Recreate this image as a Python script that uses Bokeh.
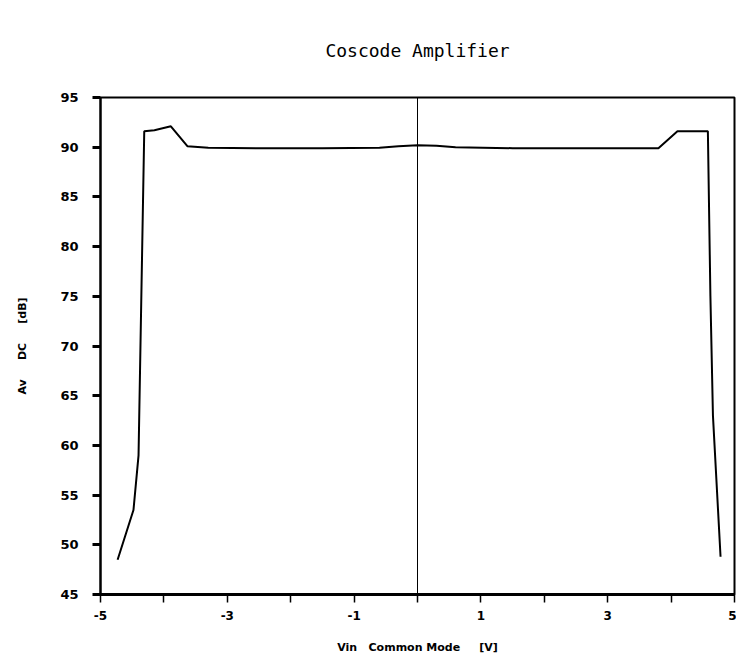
from bokeh.plotting import figure
from bokeh.models import FixedTicker, Span, Range1d
from bokeh.embed import file_html
from bokeh.resources import INLINE

# Data
vin = [-4.73, -4.48, -4.40, -4.31, -4.15, -3.89, -3.63, -3.30, -2.50, -1.50,
       -0.60, -0.30, 0.00, 0.30, 0.60, 1.50, 2.50, 3.30, 3.80, 4.10,
       4.35, 4.58, 4.62, 4.66, 4.78]
av_db = [48.5, 53.5, 59.0, 91.6, 91.7, 92.1, 90.1, 89.95, 89.9, 89.9,
         89.95, 90.1, 90.2, 90.15, 90.0, 89.9, 89.9, 89.9, 89.9, 91.6,
         91.6, 91.6, 75.0, 63.0, 48.8]
x_major = [-5, -3, -1, 1, 3, 5]
x_minor = [-4, -2, 0, 2, 4]
y_ticks = [45, 50, 55, 60, 65, 70, 75, 80, 85, 90, 95]
title_text = "Coscode Amplifier"

NB = "\u00a0"

p = figure(width=736, height=656, output_backend="svg", toolbar_location=None,
           x_range=Range1d(-5, 5), y_range=Range1d(45, 95),
           min_border_left=100, min_border_right=2, min_border_top=97,
           min_border_bottom=60)

p.title.text = title_text
p.title.align = "center"
p.title.vertical_align = "top"
p.title.text_font = "DejaVu Sans Mono"
p.title.text_font_size = "18px"
p.title.text_font_style = "normal"
p.title.text_color = "black"
p.title.standoff = 70

p.xgrid.visible = False
p.ygrid.visible = False
p.outline_line_color = "black"
p.outline_line_width = 2

# x axis
p.xaxis.ticker = FixedTicker(ticks=x_major, minor_ticks=x_minor)
p.xaxis.major_label_overrides = {v: ("-" + str(abs(v)) if v < 0 else str(v)) for v in x_major}
p.xaxis.axis_line_width = 3
p.xaxis.major_tick_in = 0
p.xaxis.major_tick_out = 8
p.xaxis.minor_tick_in = 0
p.xaxis.minor_tick_out = 8
p.xaxis.major_tick_line_width = 1.5
p.xaxis.minor_tick_line_width = 1.5
p.xaxis.major_label_text_font = "DejaVu Sans"
p.xaxis.major_label_text_font_style = "bold"
p.xaxis.major_label_text_font_size = "12px"
p.xaxis.major_label_text_color = "black"
p.xaxis.major_label_standoff = 8
p.xaxis.axis_label = "Vin" + NB * 3 + "Common" + NB + "Mode" + NB * 5 + "[V]"
p.xaxis.axis_label_text_font = "DejaVu Sans"
p.xaxis.axis_label_text_font_style = "bold"
p.xaxis.axis_label_text_font_size = "11px"
p.xaxis.axis_label_text_color = "black"
p.xaxis.axis_label_standoff = 18

# y axis
p.yaxis.ticker = FixedTicker(ticks=y_ticks, minor_ticks=[])
p.yaxis.axis_line_width = 2
p.yaxis.major_tick_in = 0
p.yaxis.major_tick_out = 8
p.yaxis.major_tick_line_width = 3
p.yaxis.major_label_text_font = "DejaVu Sans"
p.yaxis.major_label_text_font_style = "bold"
p.yaxis.major_label_text_font_size = "13px"
p.yaxis.major_label_text_color = "black"
p.yaxis.major_label_standoff = 14
p.yaxis.axis_label = "Av" + NB * 5 + "DC" + NB * 5 + "[dB]"
p.yaxis.axis_label_text_font = "DejaVu Sans"
p.yaxis.axis_label_text_font_style = "bold"
p.yaxis.axis_label_text_font_size = "11px"
p.yaxis.axis_label_text_color = "black"
p.yaxis.axis_label_standoff = 28

p.add_layout(Span(location=0, dimension="height", line_color="black", line_width=1))

p.line(vin, av_db, line_color="black", line_width=2)

open("out.html", "w").write(file_html(p, INLINE))
